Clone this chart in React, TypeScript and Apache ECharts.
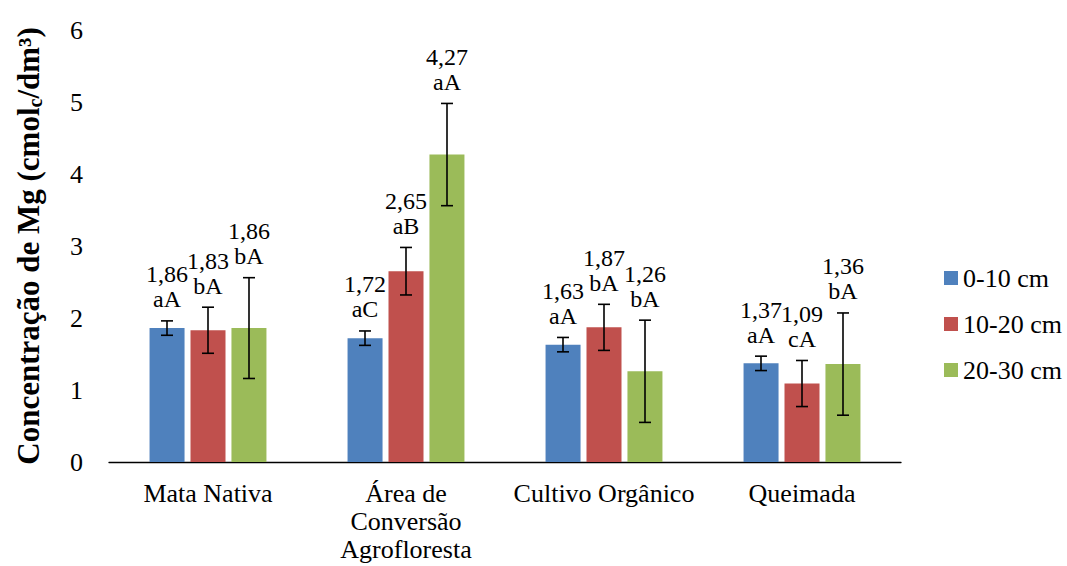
import React, { useEffect, useRef } from "react";
import * as echarts from "echarts";

const categories = ["Mata Nativa", "Área de\nConversão\nAgrofloresta", "Cultivo Orgânico", "Queimada"];
const seriesNames = ["0-10 cm", "10-20 cm", "20-30 cm"];
const colors = ["#4F81BD", "#C0504D", "#9BBB59"];
const depth0 = [1.86, 1.72, 1.63, 1.37];
const depth1 = [1.83, 2.65, 1.87, 1.09];
const depth2 = [1.86, 4.27, 1.26, 1.36];
const err0 = [0.1, 0.1, 0.1, 0.1];
const err1 = [0.32, 0.33, 0.32, 0.32];
const err2 = [0.7, 0.71, 0.71, 0.71];
const letters0 = ["aA", "aC", "aA", "aA"];
const letters1 = ["bA", "aB", "bA", "cA"];
const letters2 = ["bA", "aA", "bA", "bA"];

const values = [depth0, depth1, depth2];
const errors = [err0, err1, err2];
const letters = [letters0, letters1, letters2];

const FONT = "Liberation Serif";
const BAR_W = 35;
const BAR_STEP = 41;

export default function App() {
  const ref = useRef<HTMLDivElement>(null);
  useEffect(() => {
    const chart = echarts.init(ref.current!, null, { renderer: "svg" });
    const barSeries = seriesNames.map((name, s) => ({
      name,
      type: "bar",
      data: values[s],
      barWidth: BAR_W,
      barGap: "17%",
      itemStyle: { color: colors[s] },
      z: 2,
    }));
    const errSeries = seriesNames.map((name, s) => ({
      name: "err-" + name,
      type: "custom",
      z: 5,
      data: values[s].map((v, i) => [i, v, errors[s][i]]),
      renderItem: (params: any, api: any) => {
        const i = api.value(0);
        const v = api.value(1);
        const e = api.value(2);
        const top = api.coord([i, v + e]);
        const bot = api.coord([i, v - e]);
        const x = top[0] + (s - 1) * BAR_STEP;
        const cap = 6;
        const ls = { stroke: "#000", lineWidth: 1.6 };
        const label = v.toFixed(2).replace(".", ",") + "\n" + letters[s][i];
        return {
          type: "group",
          children: [
            { type: "line", shape: { x1: x, y1: top[1], x2: x, y2: bot[1] }, style: ls },
            { type: "line", shape: { x1: x - cap, y1: top[1], x2: x + cap, y2: top[1] }, style: ls },
            { type: "line", shape: { x1: x - cap, y1: bot[1], x2: x + cap, y2: bot[1] }, style: ls },
            {
              type: "text",
              x: x,
              y: top[1] - 9,
              style: {
                text: label,
                fill: "#000",
                fontSize: 24,
                fontFamily: FONT,
                lineHeight: 25,
                align: "center",
                verticalAlign: "bottom",
              },
            },
          ],
        };
      },
    }));
    chart.setOption({
      animation: false,
      textStyle: { fontFamily: FONT, color: "#000" },
      grid: { left: 109, right: 166, top: 30, bottom: 104, containLabel: false },
      legend: {
        data: seriesNames,
        orient: "vertical",
        left: 944,
        top: 265,
        itemWidth: 14,
        itemHeight: 14,
        itemGap: 20,
        icon: "rect",
        padding: 0,
        textStyle: { fontSize: 26, fontFamily: FONT, color: "#000" },
      },
      xAxis: {
        type: "category",
        data: categories,
        axisLine: { lineStyle: { color: "#000", width: 1.3 } },
        axisTick: { length: 6, lineStyle: { color: "#000", width: 1.3 } },
        axisLabel: { fontSize: 26, fontFamily: FONT, color: "#000", margin: 17, lineHeight: 28, interval: 0 },
      },
      yAxis: {
        type: "value",
        min: 0,
        max: 6,
        interval: 1,
        axisLine: { show: false },
        axisTick: { show: false },
        splitLine: { show: false },
        axisLabel: { fontSize: 26, fontFamily: FONT, color: "#000", margin: 26 },
        name: "{a|Concentração de Mg (cmol}{s|c}{a|/dm³)}",
        nameLocation: "middle",
        nameGap: 64,
        nameTextStyle: {
          rich: {
            a: { fontSize: 31, fontWeight: "bold", fontFamily: FONT, color: "#000" },
            s: { fontSize: 20, fontWeight: "bold", fontFamily: FONT, color: "#000", padding: [13, 0, 0, 0] },
          },
        },
      },
      series: [...barSeries, ...errSeries],
    });
    return () => chart.dispose();
  }, []);
  return <div ref={ref} style={{ position: "absolute", left: 0, top: 0, width: 1067, height: 566 }} />;
}
